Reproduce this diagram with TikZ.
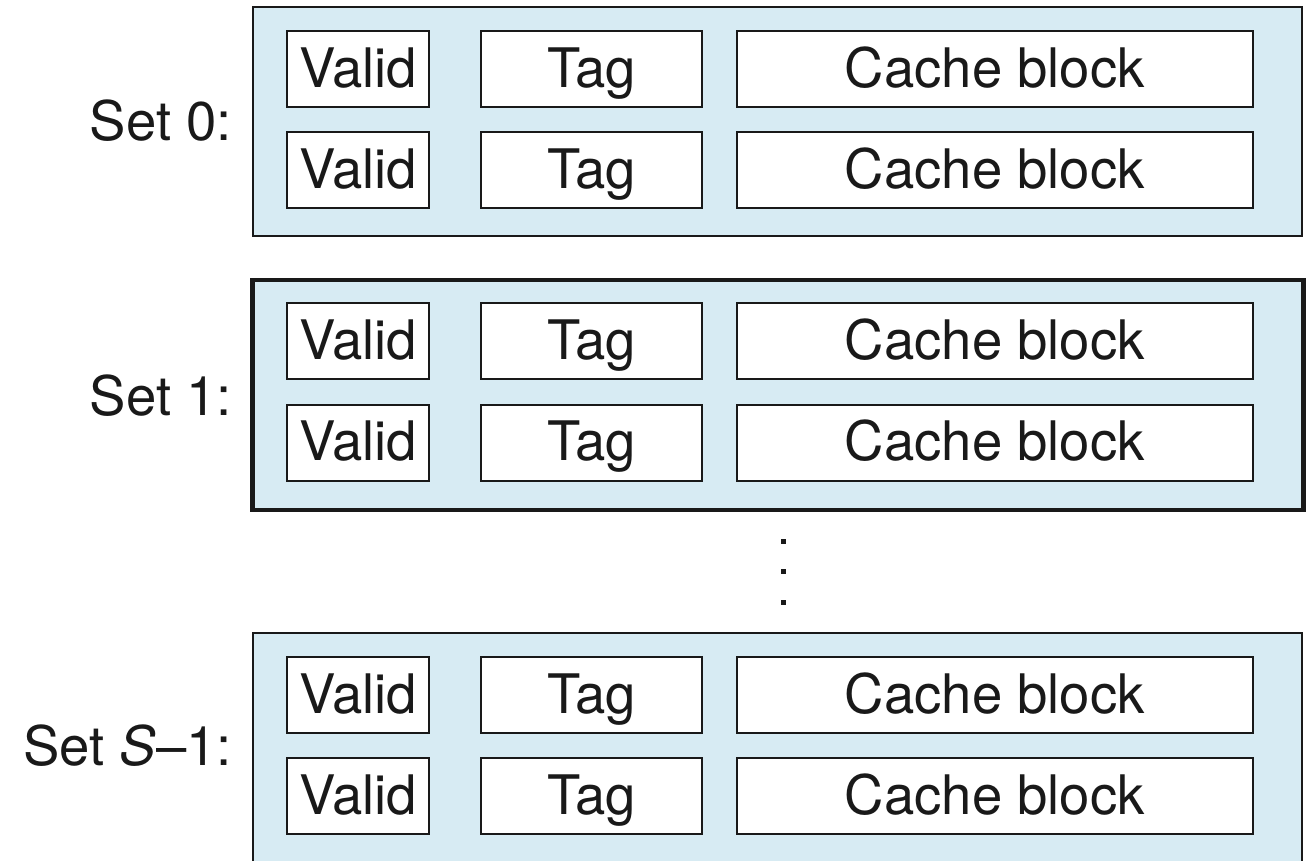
\documentclass[tikz,border=0pt]{standalone}
\usepackage{fontspec}
\setmainfont{TeX Gyre Heros}
\definecolor{setfill}{RGB}{215,235,243}
\definecolor{ink}{RGB}{25,25,25}
\begin{document}
\begin{tikzpicture}[x=1pt,y=-1pt,
  every node/.style={font=\fontsize{54.5}{60}\selectfont, text=ink},
  setbox/.style={draw=ink, fill=setfill, line width=2pt, minimum width=1049pt, minimum height=229pt, inner sep=0pt},
  hotset/.style={setbox, line width=4.5pt, minimum width=1051pt, minimum height=230pt},
  field/.style={draw=ink, fill=white, line width=2pt, minimum height=76pt, inner sep=0pt, text height=39pt, text depth=3pt},
  validf/.style={field, minimum width=142pt},
  tagf/.style={field, minimum width=221pt},
  blockf/.style={field, minimum width=516pt},
  setlabel/.style={anchor=east, inner sep=0pt, text height=39pt, text depth=0pt},
  dot/.style={fill=ink, minimum size=5pt, inner sep=0pt}
]
\useasboundingbox (0,0) rectangle (1310,860);

% set frames
\node[setbox] (s0) at (777.5,121.5) {};
\node[hotset] (s1) at (778,395) {};
\node[setbox] (sl) at (777.5,747.5) {};

% lines of each set: valid bit, tag, block
\foreach \s/\ya/\yb in {s0/69/170, s1/341/442.5, sl/695/796}{
  \node[validf] (\s-v1) at (358,\ya) {Valid};
  \node[tagf]   (\s-t1) at (591.5,\ya) {Tag};
  \node[blockf] (\s-b1) at (995,\ya) {Cache block};
  \node[validf] (\s-v2) at (358,\yb) {Valid};
  \node[tagf]   (\s-t2) at (591.5,\yb) {Tag};
  \node[blockf] (\s-b2) at (995,\yb) {Cache block};
}

% set labels
\node[setlabel] (l0) at (232,121) {Set 0:};
\node[setlabel] (l1) at (232,396) {Set 1:};
\node[setlabel] (ll) at (232,746) {Set \textit{S}–1:};

% vertical ellipsis
\node[dot] (d1) at (783,541) {};
\node[dot] (d2) at (783,571) {};
\node[dot] (d3) at (783,602) {};
\end{tikzpicture}
\end{document}
